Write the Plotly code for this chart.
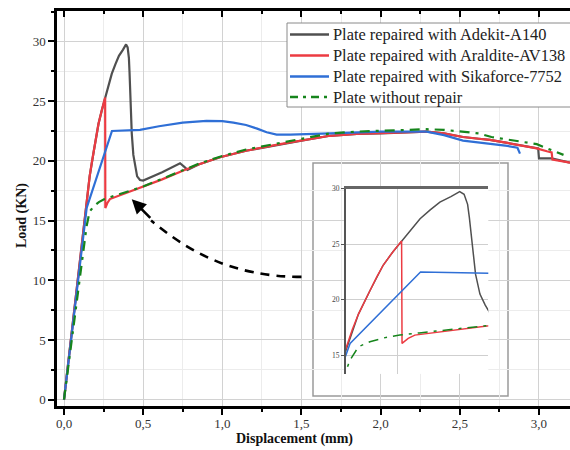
import plotly.graph_objects as go

# ---------------- data ----------------
adekit_x = [0, 0.134, 0.162, 0.188, 0.218, 0.24, 0.26, 0.28, 0.302, 0.325, 0.347, 0.372, 0.392,
            0.402, 0.41, 0.414, 0.418, 0.422, 0.428, 0.438, 0.45, 0.462, 0.48, 0.50, 0.62, 0.733,
            0.76, 0.78, 0.85, 0.985, 1.15, 1.365, 1.5, 1.68, 1.85, 2.0, 2.15, 2.29, 2.4, 2.52,
            2.62, 2.69, 2.8, 2.9, 2.995, 3.0, 3.08, 3.196]
adekit_y = [0, 15.6, 18.7, 20.8, 23.1, 24.3, 25.3, 26.3, 27.3, 28.1, 28.8, 29.3, 29.75,
            29.5, 28.6, 27.4, 25.8, 24.3, 22.3, 20.5, 19.5, 18.7, 18.4, 18.35, 19.05, 19.8,
            19.5, 19.25, 19.7, 20.3, 20.85, 21.4, 21.7, 22.1, 22.25, 22.3, 22.4, 22.45, 22.3, 22.0,
            21.85, 21.75, 21.5, 21.25, 21.05, 20.2, 20.2, 19.85]

araldite_x = [0, 0.134, 0.148, 0.162, 0.175, 0.188, 0.203, 0.218, 0.24, 0.26, 0.261, 0.275, 0.29,
              0.40, 0.50, 0.62, 0.754, 0.85, 0.985, 1.15, 1.365, 1.5, 1.68, 1.85, 2.0, 2.15, 2.29,
              2.4, 2.52, 2.62, 2.69, 2.8, 2.9, 2.986, 3.05, 3.08, 3.085, 3.196]
araldite_y = [0, 15.6, 17.3, 18.7, 19.8, 20.8, 22.0, 23.1, 24.3, 25.3, 16.05, 16.5, 16.8,
              17.35, 17.8, 18.45, 19.2, 19.7, 20.3, 20.85, 21.4, 21.7, 22.1, 22.25, 22.3, 22.4, 22.45,
              22.3, 22.0, 21.85, 21.75, 21.5, 21.25, 21.05, 20.8, 20.7, 20.1, 19.85]

sika_x = [0, 0.134, 0.143, 0.303, 0.40, 0.48, 0.60, 0.75, 0.90, 1.0, 1.07, 1.15, 1.22, 1.28,
          1.343, 1.43, 1.68, 2.0, 2.29, 2.4, 2.52, 2.62, 2.73, 2.8, 2.864, 2.87, 2.88]
sika_y = [0, 15.15, 16.05, 22.5, 22.55, 22.6, 22.9, 23.2, 23.35, 23.33, 23.2, 23.0, 22.7, 22.4,
          22.2, 22.2, 22.3, 22.45, 22.45, 22.15, 21.7, 21.55, 21.4, 21.25, 21.1, 20.9, 20.6]

norepair_x = [0, 0.134, 0.143, 0.162, 0.188, 0.22, 0.256, 0.30, 0.40, 0.50, 0.62, 0.754, 0.85,
              0.985, 1.15, 1.365, 1.5, 1.68, 1.85, 2.0, 2.15, 2.29, 2.4, 2.52, 2.62, 2.7, 2.8,
              2.9, 2.986, 3.06, 3.155]
norepair_y = [0, 13.5, 14.55, 15.75, 16.2, 16.55, 16.8, 17.0, 17.4, 17.85, 18.5, 19.24, 19.75,
              20.35, 20.95, 21.5, 21.85, 22.3, 22.45, 22.5, 22.6, 22.65, 22.6, 22.45, 22.3, 22.0, 21.8,
              21.6, 21.4, 21.0, 20.5]

names = ["Plate repaired with Adekit-A140", "Plate repaired with Araldite-AV138",
         "Plate repaired with Sikaforce-7752", "Plate without repair"]
colors = ["#505050", "#ec3b42", "#2f6fd6", "#16851c"]
dashes = ["solid", "solid", "solid", "10px,6px,3px,6px"]
series = [(adekit_x, adekit_y), (araldite_x, araldite_y), (sika_x, sika_y), (norepair_x, norepair_y)]

FONT = "Liberation Serif"

fig = go.Figure()
for (xs, ys), n, c, d in zip(series, names, colors, dashes):
    fig.add_trace(go.Scatter(x=xs, y=ys, mode="lines", name=n, showlegend=False,
                             line=dict(color=c, width=2.2, dash=d)))
# inset copies
for (xs, ys), n, c, d in zip(series, names, colors, dashes):
    fig.add_trace(go.Scatter(x=xs, y=ys, mode="lines", name=n, showlegend=False,
                             xaxis="x3", yaxis="y3",
                             line=dict(color=c, width=1.5, dash=d)))

W, H = 570, 450
L, R, T, B = 57, 0, 11, 44
pw, ph = W - L - R, H - T - B


def px2paper_x(p):
    return (p - L) / pw


def px2paper_y(p):
    return (H - B - p) / ph


x_range = [-0.0442, 3.196]
y_range = [-0.53, 32.55]

fig.update_layout(
    width=W, height=H,
    margin=dict(l=L, r=R, t=T, b=B),
    paper_bgcolor="white", plot_bgcolor="white",
    separators=",.",
    font=dict(family=FONT, size=13, color="#333"),
    showlegend=False,
    xaxis=dict(range=x_range, showline=True, linecolor="black", linewidth=2.5,
               ticks="outside", ticklen=6, tickwidth=1.5, tickcolor="black",
               dtick=0.5, tick0=0, tickformat=".1f", ticklabelstandoff=-2,
               showgrid=True, gridcolor="#d2d2d2", gridwidth=1, zeroline=False,
               minor=dict(dtick=0.25, ticks="outside", ticklen=3, tickwidth=1.5,
                          tickcolor="black", showgrid=True, gridcolor="#ececec"),
               tickfont=dict(family=FONT, size=13, color="#333")),
    xaxis2=dict(range=x_range, overlaying="x", side="top", anchor="y", showline=True,
                linecolor="black", linewidth=2.5, ticks="inside", ticklen=6, tickwidth=1.5,
                tickcolor="black", dtick=0.5, tick0=0, showticklabels=False, showgrid=False,
                zeroline=False,
                minor=dict(dtick=0.25, ticks="inside", ticklen=3, tickwidth=1.5,
                           tickcolor="black", showgrid=False)),
    yaxis=dict(range=y_range, showline=True, linecolor="black", linewidth=2.5,
               ticks="outside", ticklen=6, tickwidth=1.5, tickcolor="black",
               dtick=5, tick0=0, showgrid=True, gridcolor="#d2d2d2", zeroline=False,
               minor=dict(dtick=2.5, ticks="outside", ticklen=3, tickwidth=1.5,
                          tickcolor="black", showgrid=True, gridcolor="#ececec"),
               tickfont=dict(family=FONT, size=13, color="#333")),
    xaxis3=dict(domain=[px2paper_x(345.7), px2paper_x(488.3)], range=[0.133, 0.457],
                anchor="y3", side="top", showline=True, linecolor="#666", linewidth=2.5,
                ticks="", showticklabels=False, dtick=0.25, tick0=0,
                showgrid=True, gridcolor="#cfcfcf", zeroline=False),
    yaxis3=dict(domain=[px2paper_y(373.9), px2paper_y(188.8)], range=[13.3, 30.0],
                anchor="x3", showline=True, linecolor="#555", linewidth=1.5,
                ticks="outside", ticklen=3, tickcolor="#555", dtick=5, tick0=0,
                showgrid=True, gridcolor="#cfcfcf", zeroline=False,
                tickfont=dict(family=FONT, size=7.5, color="#444")),
)

# trigger the top axis to render
fig.add_trace(go.Scatter(x=[None], y=[None], xaxis="x2", yaxis="y", showlegend=False,
                         hoverinfo="skip"))

# inset frame
fig.add_shape(type="rect", xref="paper", yref="paper",
              x0=px2paper_x(313), x1=px2paper_x(508), y0=px2paper_y(396), y1=px2paper_y(163),
              line=dict(color="#9a9a9a", width=1.5), fillcolor="white", layer="below")

# legend (drawn by hand to match the reference's spacing)
fig.add_shape(type="rect", xref="paper", yref="paper",
              x0=px2paper_x(287), x1=px2paper_x(585), y0=px2paper_y(107), y1=px2paper_y(23),
              line=dict(color="#8a8a8a", width=1), fillcolor="white", layer="above")
row_y = [34.5, 55.5, 76.5, 97]
for ry, n, c, d in zip(row_y, names, colors, dashes):
    fig.add_shape(type="line", xref="paper", yref="paper",
                  x0=px2paper_x(290), x1=px2paper_x(329), y0=px2paper_y(ry), y1=px2paper_y(ry),
                  line=dict(color=c, width=2.4, dash=("8px,5px,3px,5px" if d != "solid" else "solid")),
                  layer="above")
    fig.add_annotation(x=px2paper_x(331), y=px2paper_y(ry), xref="paper", yref="paper",
                       text=n, showarrow=False, xanchor="left", yanchor="middle",
                       font=dict(family=FONT, size=16.4, color="#222"))

# dashed curved pointer
fig.add_shape(type="path", xref="x", yref="y",
              path="M 1.50,10.28 C 1.05,10.30 0.78,12.5 0.55,15.0",
              line=dict(color="black", width=2.6, dash="9px,7px"))
fig.add_annotation(x=0.428, y=16.78, xref="x", yref="y", ax=20, ay=20, text="",
                   showarrow=True, arrowhead=2, arrowsize=1.1, arrowwidth=2.6,
                   arrowcolor="black", standoff=0)

# axis titles
fig.add_annotation(x=px2paper_x(294), y=px2paper_y(439), xref="paper", yref="paper",
                   text="<b>Displacement (mm)</b>", showarrow=False,
                   font=dict(family=FONT, size=14, color="#111"),
                   xanchor="center", yanchor="middle")
fig.add_annotation(x=px2paper_x(22), y=px2paper_y(216), xref="paper", yref="paper",
                   text="<b>Load (KN)</b>", showarrow=False, textangle=-90,
                   font=dict(family=FONT, size=14, color="#111"),
                   xanchor="center", yanchor="middle")

fig.write_html("out.html")
